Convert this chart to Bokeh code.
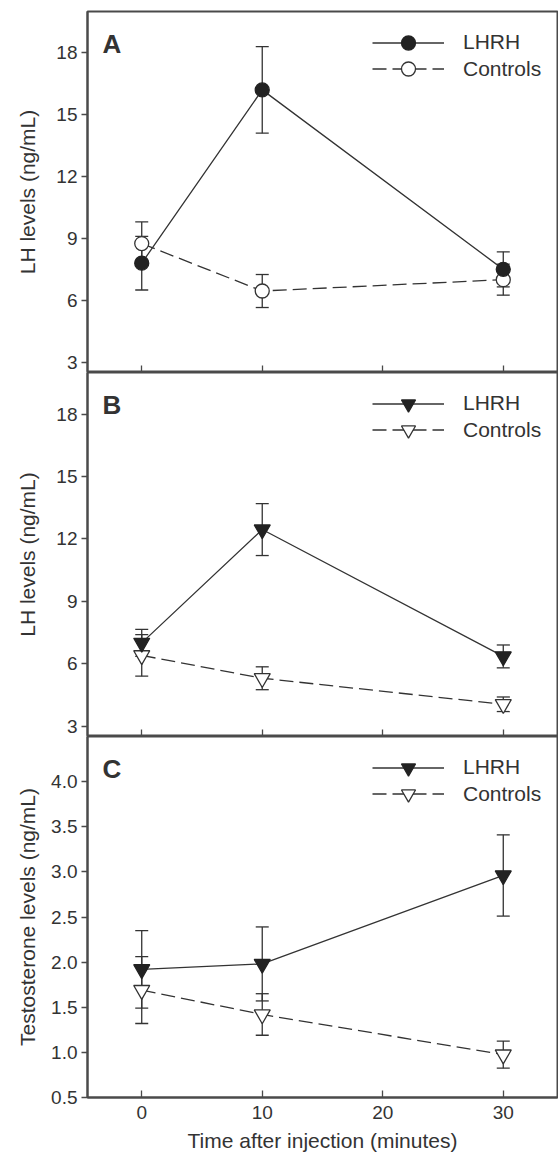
from bokeh.plotting import figure
from bokeh.models import (Whisker, TeeHead, ColumnDataSource, Legend, LegendItem,
                          Label, FixedTicker, Range1d, NumeralTickFormatter)
from bokeh.layouts import column
from bokeh.embed import file_html
from bokeh.resources import INLINE

# ---------------- data ----------------
time = [0, 10, 30]
x_ticks = [0, 10, 20, 30]

a_lhrh = [7.8, 16.2, 7.5]
a_lhrh_err = [1.3, 2.1, 0.85]
a_ctrl = [8.75, 6.45, 7.0]
a_ctrl_err = [1.05, 0.8, 0.75]

b_lhrh = [7.0, 12.45, 6.35]
b_lhrh_err = [0.65, 1.25, 0.55]
b_ctrl = [6.4, 5.3, 4.05]
b_ctrl_err = [1.0, 0.55, 0.35]

c_lhrh = [1.92, 1.98, 2.96]
c_lhrh_err = [0.43, 0.41, 0.45]
c_ctrl = [1.69, 1.42, 0.975]
c_ctrl_err = [0.37, 0.23, 0.15]

lh_ticks = [3, 6, 9, 12, 15, 18]
t_ticks = [0.5, 1.0, 1.5, 2.0, 2.5, 3.0, 3.5, 4.0]
series_labels = ["LHRH", "Controls"]

FONT = "Liberation Sans"
TXT = "#333333"
AX = "#4a4a4a"
LN = "#333333"


def panel(letter, yr, yticks, ylabel, lhrh, lhrh_err, ctrl, ctrl_err,
          mk_l, mk_c, mk_size, frame_h, top_border, last, ylabel_standoff):
    p = figure(frame_width=470, frame_height=frame_h,
               x_range=Range1d(-4.5, 34.5), y_range=Range1d(*yr),
               output_backend="svg", toolbar_location=None,
               min_border_left=87, min_border_right=1,
               min_border_top=top_border, min_border_bottom=0)
    p.grid.visible = False
    p.outline_line_color = AX
    p.outline_line_width = 2
    p.background_fill_color = "white"
    p.border_fill_color = "white"

    ya = p.yaxis[0]
    ya.ticker = FixedTicker(ticks=yticks)
    if last:
        ya.formatter = NumeralTickFormatter(format="0.0")
    ya.major_tick_out = 6
    ya.major_tick_in = 0
    ya.minor_tick_line_color = None
    ya.axis_line_color = AX
    ya.axis_line_width = 2
    ya.major_tick_line_color = AX
    ya.major_tick_line_width = 1.3
    ya.major_label_text_font = FONT
    ya.major_label_text_font_size = "19px"
    ya.major_label_text_color = TXT
    ya.major_label_standoff = 4
    ya.axis_label = ylabel
    ya.axis_label_text_font = FONT
    ya.axis_label_text_font_size = "21px"
    ya.axis_label_text_font_style = "normal"
    ya.axis_label_text_color = TXT
    ya.axis_label_standoff = ylabel_standoff

    xa = p.xaxis[0]
    xa.ticker = FixedTicker(ticks=x_ticks)
    xa.minor_tick_line_color = None
    xa.major_tick_in = 7
    xa.major_tick_out = 0
    xa.axis_line_color = AX
    xa.axis_line_width = 2
    xa.major_tick_line_color = AX
    xa.major_tick_line_width = 1.3
    if last:
        xa.major_label_text_font = FONT
        xa.major_label_text_font_size = "19px"
        xa.major_label_text_color = TXT
        xa.major_label_standoff = 8
        xa.axis_label = "Time after injection (minutes)"
        xa.axis_label_text_font = FONT
        xa.axis_label_text_font_size = "21px"
        xa.axis_label_text_font_style = "normal"
        xa.axis_label_text_color = TXT
        xa.axis_label_standoff = 7
    else:
        xa.major_label_overrides = {t: "" for t in x_ticks}
        xa.major_label_text_font_size = "0px"
        xa.major_label_standoff = 0

    for vals, errs in ((ctrl, ctrl_err), (lhrh, lhrh_err)):
        src = ColumnDataSource(dict(x=time,
                                    lo=[v - e for v, e in zip(vals, errs)],
                                    hi=[v + e for v, e in zip(vals, errs)]))
        w = Whisker(source=src, base="x", lower="lo", upper="hi",
                    line_color=LN, line_width=1.3,
                    lower_head=TeeHead(size=13, line_color=LN, line_width=1.3),
                    upper_head=TeeHead(size=13, line_color=LN, line_width=1.3))
        p.add_layout(w)

    lc = p.line(time, ctrl, line_color=LN, line_width=1.3, line_dash="14 6")
    sc = p.scatter(time, ctrl, marker=mk_c, size=mk_size, fill_color="white",
                   line_color=LN, line_width=1.3)
    ll = p.line(time, lhrh, line_color=LN, line_width=1.3)
    sl = p.scatter(time, lhrh, marker=mk_l, size=mk_size, fill_color="#222222",
                   line_color="#222222", line_width=1.3)

    # one legend per entry so that the entry pitch can be tighter than the glyph box
    for lab, rends, centre in ((series_labels[0], [ll, sl], 31),
                               (series_labels[1], [lc, sc], 57.5)):
        lg = Legend(items=[LegendItem(label=lab, renderers=rends)],
                    location=(285, frame_h - (centre - 17.5) - 35),
                    glyph_width=72, glyph_height=35, label_height=35,
                    spacing=0, padding=0, margin=0, label_standoff=19,
                    label_text_font=FONT, label_text_font_size="21px",
                    label_text_color=TXT,
                    background_fill_alpha=0, border_line_alpha=0)
        p.add_layout(lg)

    p.add_layout(Label(x=15, y=frame_h - 32, x_units="screen", y_units="screen",
                       text=letter, text_font=FONT, text_font_style="bold",
                       text_font_size="26px", text_color="#333333",
                       text_baseline="alphabetic"))
    return p


pa = panel("A", (2.5, 20), lh_ticks, "LH levels (ng/mL)", a_lhrh, a_lhrh_err,
           a_ctrl, a_ctrl_err, "circle", "circle", 14, 361, 11, False, 14)
pb = panel("B", (2.5, 20), lh_ticks, "LH levels (ng/mL)", b_lhrh, b_lhrh_err,
           b_ctrl, b_ctrl_err, "inverted_triangle", "inverted_triangle", 16,
           364, 0, False, 14)
pc = panel("C", (0.5, 4.5), t_ticks, "Testosterone levels (ng/mL)", c_lhrh,
           c_lhrh_err, c_ctrl, c_ctrl_err, "inverted_triangle",
           "inverted_triangle", 16, 361, 0, True, 9)

layout = column(pa, pb, pc, spacing=0)
open("out.html", "w").write(file_html(layout, INLINE))
